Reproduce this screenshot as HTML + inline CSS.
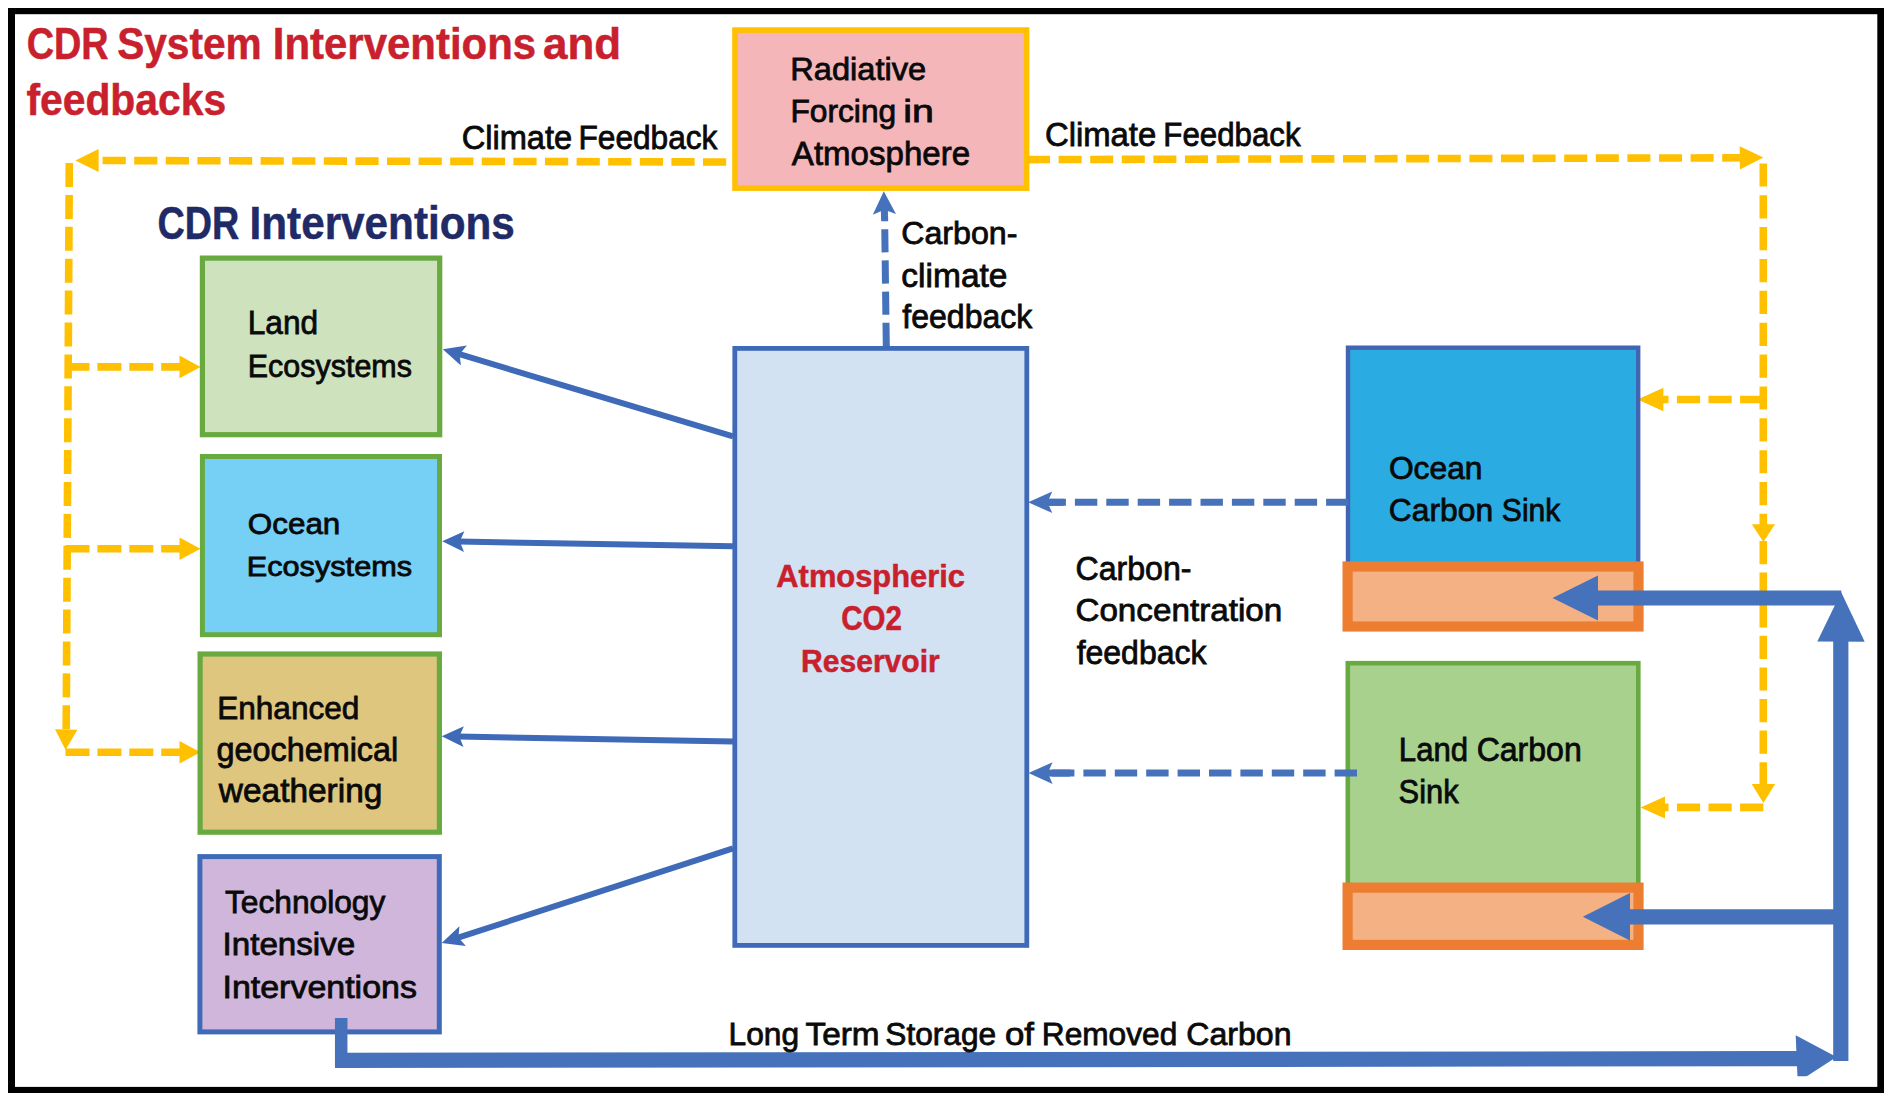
<!DOCTYPE html>
<html><head><meta charset="utf-8"><style>
html,body{margin:0;padding:0;background:#fff;}
svg{display:block;}
text{font-family:"Liberation Sans",sans-serif;}
</style></head><body>
<svg width="1892" height="1105" viewBox="0 0 1892 1105">
<rect width="1892" height="1105" fill="#fff"/>
<rect x="8" y="8" width="7" height="1085" fill="#000"/>
<rect x="8" y="8" width="1876" height="6.2" fill="#000"/>
<rect x="1877.3" y="8" width="6.7" height="1085" fill="#000"/>
<rect x="8" y="1086.9" width="1876" height="6.1" fill="#000"/>
<line x1="732.00" y1="162.00" x2="98.60" y2="160.50" stroke="#FFC000" stroke-width="7.60" stroke-dasharray="23.20 8.40" stroke-dashoffset="25.80" stroke-linecap="butt"/>
<polygon points="75.40,160.50 98.60,148.90 98.60,172.10" fill="#FFC000"/>
<line x1="69.30" y1="163.00" x2="66.20" y2="730.00" stroke="#FFC000" stroke-width="7.60" stroke-dasharray="24.00 7.90" stroke-dashoffset="0.00" stroke-linecap="butt"/>
<polygon points="65.60,750.00 55.00,729.17 77.40,729.83" fill="#FFC000"/>
<line x1="65.50" y1="366.90" x2="180.00" y2="366.90" stroke="#FFC000" stroke-width="7.60" stroke-dasharray="24.00 7.90" stroke-dashoffset="0.00" stroke-linecap="butt"/>
<polygon points="200.50,366.90 179.50,378.20 179.50,355.60" fill="#FFC000"/>
<line x1="65.50" y1="548.70" x2="180.00" y2="548.70" stroke="#FFC000" stroke-width="7.60" stroke-dasharray="24.00 7.90" stroke-dashoffset="0.00" stroke-linecap="butt"/>
<polygon points="200.50,548.70 179.50,560.00 179.50,537.40" fill="#FFC000"/>
<line x1="65.50" y1="752.30" x2="180.00" y2="752.30" stroke="#FFC000" stroke-width="7.60" stroke-dasharray="24.00 7.90" stroke-dashoffset="0.00" stroke-linecap="butt"/>
<polygon points="200.50,752.30 179.50,763.60 179.50,741.00" fill="#FFC000"/>
<line x1="1027.00" y1="159.60" x2="1741.00" y2="157.80" stroke="#FFC000" stroke-width="7.60" stroke-dasharray="23.00 8.60" stroke-dashoffset="0.00" stroke-linecap="butt"/>
<polygon points="1763.40,157.60 1739.90,169.40 1739.70,146.20" fill="#FFC000"/>
<line x1="1763.30" y1="163.40" x2="1763.30" y2="525.00" stroke="#FFC000" stroke-width="7.60" stroke-dasharray="23.20 8.66" stroke-dashoffset="0.00" stroke-linecap="butt"/>
<polygon points="1763.40,542.00 1751.80,524.20 1775.00,524.20" fill="#FFC000"/>
<line x1="1763.30" y1="541.00" x2="1763.30" y2="785.00" stroke="#FFC000" stroke-width="7.60" stroke-dasharray="23.20 8.40" stroke-dashoffset="0.00" stroke-linecap="butt"/>
<polygon points="1763.40,803.00 1751.70,784.00 1775.10,784.00" fill="#FFC000"/>
<line x1="1763.30" y1="399.50" x2="1663.00" y2="399.50" stroke="#FFC000" stroke-width="7.60" stroke-dasharray="23.20 8.40" stroke-dashoffset="0.00" stroke-linecap="butt"/>
<polygon points="1637.50,399.50 1663.40,387.70 1663.40,411.30" fill="#FFC000"/>
<line x1="1763.30" y1="807.40" x2="1665.00" y2="807.40" stroke="#FFC000" stroke-width="7.60" stroke-dasharray="23.20 8.40" stroke-dashoffset="0.00" stroke-linecap="butt"/>
<polygon points="1640.50,807.40 1665.00,796.40 1665.00,818.40" fill="#FFC000"/>
<rect x="735.00" y="30.10" width="291.60" height="158.00" fill="#F5B6BA" stroke="#FFC000" stroke-width="5.60"/>
<rect x="734.80" y="348.40" width="292.00" height="597.00" fill="#D3E2F3" stroke="#3F6AB8" stroke-width="4.80"/>
<rect x="202.40" y="258.10" width="237.30" height="176.60" fill="#CDE2BD" stroke="#68A940" stroke-width="5.20"/>
<rect x="202.40" y="456.50" width="237.10" height="178.20" fill="#76CFF4" stroke="#68A940" stroke-width="5.00"/>
<rect x="200.10" y="654.00" width="239.30" height="178.20" fill="#DEC67F" stroke="#68A940" stroke-width="5.20"/>
<rect x="199.90" y="856.60" width="239.40" height="175.30" fill="#CFB6DA" stroke="#3F6AB8" stroke-width="5.00"/>
<rect x="1348.00" y="347.70" width="290.20" height="220.10" fill="#2AACE3" stroke="#4265B3" stroke-width="4.40"/>
<rect x="1347.60" y="566.50" width="290.90" height="60.00" fill="#F4B183" stroke="#ED7D31" stroke-width="10.20"/>
<rect x="1347.80" y="663.20" width="290.50" height="224.50" fill="#A9D18E" stroke="#68A940" stroke-width="4.60"/>
<rect x="1347.60" y="887.60" width="290.90" height="57.30" fill="#F4B183" stroke="#ED7D31" stroke-width="10.20"/>
<line x1="886.30" y1="346.00" x2="884.60" y2="216.00" stroke="#4672BC" stroke-width="7.00" stroke-dasharray="23.20 8.00" stroke-dashoffset="0.00" stroke-linecap="butt"/>
<line x1="884.40" y1="208.00" x2="884.50" y2="219.50" stroke="#4672BC" stroke-width="7.00" stroke-linecap="butt"/>
<polygon points="883.80,191.20 896.00,214.10 884.28,209.76 872.80,214.70" fill="#4672BC"/>
<line x1="1348.50" y1="502.30" x2="1049.00" y2="502.30" stroke="#4672BC" stroke-width="7.00" stroke-dasharray="22.40 9.00" stroke-dashoffset="0.00" stroke-linecap="butt"/>
<line x1="1045.00" y1="502.30" x2="1063.50" y2="502.30" stroke="#4672BC" stroke-width="7.00" stroke-linecap="butt"/>
<polygon points="1028.10,502.30 1052.30,491.50 1047.46,502.30 1052.30,513.10" fill="#4672BC"/>
<line x1="1357.00" y1="773.10" x2="1049.00" y2="773.10" stroke="#4672BC" stroke-width="7.00" stroke-dasharray="22.40 9.00" stroke-dashoffset="0.00" stroke-linecap="butt"/>
<line x1="1045.00" y1="773.10" x2="1070.00" y2="773.10" stroke="#4672BC" stroke-width="7.00" stroke-linecap="butt"/>
<polygon points="1028.50,773.10 1052.60,762.30 1047.78,773.10 1052.60,783.90" fill="#4672BC"/>
<line x1="733.00" y1="436.30" x2="458.60" y2="353.94" stroke="#3F6AB8" stroke-width="6.00" stroke-linecap="butt"/>
<polygon points="442.80,349.20 466.86,345.56 459.66,354.26 460.88,365.49" fill="#3F6AB8"/>
<line x1="733.00" y1="546.20" x2="458.70" y2="541.58" stroke="#3F6AB8" stroke-width="6.00" stroke-linecap="butt"/>
<polygon points="442.20,541.30 464.37,531.27 459.80,541.60 464.02,552.07" fill="#3F6AB8"/>
<line x1="733.00" y1="741.50" x2="458.20" y2="736.59" stroke="#3F6AB8" stroke-width="6.00" stroke-linecap="butt"/>
<polygon points="441.70,736.30 463.88,726.29 459.30,736.61 463.51,747.09" fill="#3F6AB8"/>
<line x1="733.00" y1="848.30" x2="457.39" y2="937.90" stroke="#3F6AB8" stroke-width="6.00" stroke-linecap="butt"/>
<polygon points="441.70,943.00 459.41,926.31 458.44,937.56 465.84,946.09" fill="#3F6AB8"/>
<line x1="341.20" y1="1018.00" x2="341.20" y2="1066.00" stroke="#4672BC" stroke-width="12.50" stroke-linecap="butt"/>
<line x1="335.00" y1="1060.30" x2="1800.00" y2="1058.70" stroke="#4672BC" stroke-width="15.20" stroke-linecap="butt"/>
<clipPath id="cb"><rect x="1780" y="1000" width="80" height="76.3"/></clipPath>
<polygon clip-path="url(#cb)" points="1836.50,1057.00 1797.70,1082.18 1795.70,1035.22" fill="#4672BC"/>
<line x1="1840.80" y1="1061.00" x2="1840.80" y2="640.00" stroke="#4672BC" stroke-width="15.20" stroke-linecap="butt"/>
<polygon points="1841.20,592.30 1864.70,641.80 1817.30,641.60" fill="#4672BC"/>
<line x1="1841.30" y1="598.00" x2="1596.00" y2="598.00" stroke="#4672BC" stroke-width="15.20" stroke-linecap="butt"/>
<polygon points="1552.50,598.00 1598.00,575.40 1598.00,620.60" fill="#4672BC"/>
<line x1="1841.00" y1="916.80" x2="1628.00" y2="916.80" stroke="#4672BC" stroke-width="15.20" stroke-linecap="butt"/>
<polygon points="1582.80,916.80 1630.00,893.00 1630.00,940.60" fill="#4672BC"/>
<text id="t0_0" x="26.65" y="59.00" font-size="44.77" font-weight="bold" fill="#C9202D" stroke="#C9202D" stroke-width="0.50" textLength="81.93" lengthAdjust="spacingAndGlyphs">CDR</text>
<text id="t0_1" x="117.13" y="59.00" font-size="44.77" font-weight="bold" fill="#C9202D" stroke="#C9202D" stroke-width="0.50" textLength="144.59" lengthAdjust="spacingAndGlyphs">System</text>
<text id="t0_2" x="272.79" y="59.00" font-size="44.77" font-weight="bold" fill="#C9202D" stroke="#C9202D" stroke-width="0.50" textLength="263.33" lengthAdjust="spacingAndGlyphs">Interventions</text>
<text id="t0_3" x="543.01" y="59.00" font-size="44.77" font-weight="bold" fill="#C9202D" stroke="#C9202D" stroke-width="0.50" textLength="78.08" lengthAdjust="spacingAndGlyphs">and</text>
<text id="t1" x="26.40" y="115.10" font-size="44.77" font-weight="bold" fill="#C9202D" stroke="#C9202D" stroke-width="0.50" textLength="199.77" lengthAdjust="spacingAndGlyphs">feedbacks</text>
<text id="t2_0" x="157.45" y="239.20" font-size="45.35" font-weight="bold" fill="#1F2A66" stroke="#1F2A66" stroke-width="0.50" textLength="81.72" lengthAdjust="spacingAndGlyphs">CDR</text>
<text id="t2_1" x="249.57" y="239.20" font-size="45.35" font-weight="bold" fill="#1F2A66" stroke="#1F2A66" stroke-width="0.50" textLength="265.26" lengthAdjust="spacingAndGlyphs">Interventions</text>
<text id="t3_0" x="461.64" y="148.60" font-size="33.58" font-weight="normal" fill="#0a0a0a" stroke="#0a0a0a" stroke-width="0.80" textLength="110.61" lengthAdjust="spacingAndGlyphs">Climate</text>
<text id="t3_1" x="578.50" y="148.60" font-size="33.58" font-weight="normal" fill="#0a0a0a" stroke="#0a0a0a" stroke-width="0.80" textLength="138.95" lengthAdjust="spacingAndGlyphs">Feedback</text>
<text id="t4_0" x="1044.93" y="145.70" font-size="33.43" font-weight="normal" fill="#0a0a0a" stroke="#0a0a0a" stroke-width="0.80" textLength="111.33" lengthAdjust="spacingAndGlyphs">Climate</text>
<text id="t4_1" x="1163.34" y="145.70" font-size="33.43" font-weight="normal" fill="#0a0a0a" stroke="#0a0a0a" stroke-width="0.80" textLength="137.22" lengthAdjust="spacingAndGlyphs">Feedback</text>
<text id="t5" x="790.33" y="80.00" font-size="31.98" font-weight="normal" fill="#0a0a0a" stroke="#0a0a0a" stroke-width="0.80" textLength="135.82" lengthAdjust="spacingAndGlyphs">Radiative</text>
<text id="t6_0" x="790.40" y="121.50" font-size="30.81" font-weight="normal" fill="#0a0a0a" stroke="#0a0a0a" stroke-width="0.80" textLength="105.85" lengthAdjust="spacingAndGlyphs">Forcing</text>
<text id="t6_1" x="903.37" y="121.50" font-size="30.81" font-weight="normal" fill="#0a0a0a" stroke="#0a0a0a" stroke-width="0.80" textLength="30.58" lengthAdjust="spacingAndGlyphs">in</text>
<text id="t7" x="791.84" y="164.60" font-size="33.14" font-weight="normal" fill="#0a0a0a" stroke="#0a0a0a" stroke-width="0.80" textLength="178.23" lengthAdjust="spacingAndGlyphs">Atmosphere</text>
<text id="t8" x="901.17" y="244.30" font-size="31.69" font-weight="normal" fill="#0a0a0a" stroke="#0a0a0a" stroke-width="0.80" textLength="116.26" lengthAdjust="spacingAndGlyphs">Carbon-</text>
<text id="t9" x="901.38" y="286.80" font-size="32.41" font-weight="normal" fill="#0a0a0a" stroke="#0a0a0a" stroke-width="0.80" textLength="106.11" lengthAdjust="spacingAndGlyphs">climate</text>
<text id="t10" x="902.35" y="328.40" font-size="32.41" font-weight="normal" fill="#0a0a0a" stroke="#0a0a0a" stroke-width="0.80" textLength="129.91" lengthAdjust="spacingAndGlyphs">feedback</text>
<text id="t11" x="247.70" y="334.30" font-size="33.29" font-weight="normal" fill="#0a0a0a" stroke="#0a0a0a" stroke-width="0.80" textLength="70.44" lengthAdjust="spacingAndGlyphs">Land</text>
<text id="t12" x="247.80" y="376.60" font-size="31.83" font-weight="normal" fill="#0a0a0a" stroke="#0a0a0a" stroke-width="0.80" textLength="164.10" lengthAdjust="spacingAndGlyphs">Ecosystems</text>
<text id="t13" x="247.81" y="533.60" font-size="30.38" font-weight="normal" fill="#0a0a0a" stroke="#0a0a0a" stroke-width="0.80" textLength="92.53" lengthAdjust="spacingAndGlyphs">Ocean</text>
<text id="t14" x="246.78" y="576.40" font-size="27.47" font-weight="normal" fill="#0a0a0a" stroke="#0a0a0a" stroke-width="0.80" textLength="165.32" lengthAdjust="spacingAndGlyphs">Ecosystems</text>
<text id="t15" x="217.21" y="718.70" font-size="31.83" font-weight="normal" fill="#0a0a0a" stroke="#0a0a0a" stroke-width="0.80" textLength="142.12" lengthAdjust="spacingAndGlyphs">Enhanced</text>
<text id="t16" x="216.44" y="760.50" font-size="32.41" font-weight="normal" fill="#0a0a0a" stroke="#0a0a0a" stroke-width="0.80" textLength="181.83" lengthAdjust="spacingAndGlyphs">geochemical</text>
<text id="t17" x="218.85" y="802.30" font-size="32.41" font-weight="normal" fill="#0a0a0a" stroke="#0a0a0a" stroke-width="0.80" textLength="163.51" lengthAdjust="spacingAndGlyphs">weathering</text>
<text id="t18" x="224.90" y="912.80" font-size="31.69" font-weight="normal" fill="#0a0a0a" stroke="#0a0a0a" stroke-width="0.80" textLength="160.46" lengthAdjust="spacingAndGlyphs">Technology</text>
<text id="t19" x="222.54" y="955.10" font-size="31.54" font-weight="normal" fill="#0a0a0a" stroke="#0a0a0a" stroke-width="0.80" textLength="132.73" lengthAdjust="spacingAndGlyphs">Intensive</text>
<text id="t20" x="222.47" y="997.50" font-size="31.54" font-weight="normal" fill="#0a0a0a" stroke="#0a0a0a" stroke-width="0.80" textLength="194.46" lengthAdjust="spacingAndGlyphs">Interventions</text>
<text id="t21" x="776.33" y="586.70" font-size="31.25" font-weight="bold" fill="#C9202D" stroke="#C9202D" stroke-width="0.50" textLength="188.57" lengthAdjust="spacingAndGlyphs">Atmospheric</text>
<text id="t22" x="841.19" y="629.60" font-size="34.74" font-weight="bold" fill="#C9202D" stroke="#C9202D" stroke-width="0.50" textLength="60.59" lengthAdjust="spacingAndGlyphs">CO2</text>
<text id="t23" x="801.09" y="672.30" font-size="32.27" font-weight="bold" fill="#C9202D" stroke="#C9202D" stroke-width="0.50" textLength="138.67" lengthAdjust="spacingAndGlyphs">Reservoir</text>
<text id="t24" x="1075.47" y="579.50" font-size="33.58" font-weight="normal" fill="#0a0a0a" stroke="#0a0a0a" stroke-width="0.80" textLength="115.96" lengthAdjust="spacingAndGlyphs">Carbon-</text>
<text id="t25" x="1075.41" y="621.10" font-size="32.27" font-weight="normal" fill="#0a0a0a" stroke="#0a0a0a" stroke-width="0.80" textLength="206.84" lengthAdjust="spacingAndGlyphs">Concentration</text>
<text id="t26" x="1076.65" y="663.60" font-size="32.41" font-weight="normal" fill="#0a0a0a" stroke="#0a0a0a" stroke-width="0.80" textLength="129.81" lengthAdjust="spacingAndGlyphs">feedback</text>
<text id="t27" x="1388.90" y="478.60" font-size="31.54" font-weight="normal" fill="#0a0a0a" stroke="#0a0a0a" stroke-width="0.80" textLength="93.57" lengthAdjust="spacingAndGlyphs">Ocean</text>
<text id="t28_0" x="1388.79" y="520.60" font-size="31.83" font-weight="normal" fill="#0a0a0a" stroke="#0a0a0a" stroke-width="0.80" textLength="104.28" lengthAdjust="spacingAndGlyphs">Carbon</text>
<text id="t28_1" x="1501.83" y="520.60" font-size="31.83" font-weight="normal" fill="#0a0a0a" stroke="#0a0a0a" stroke-width="0.80" textLength="58.52" lengthAdjust="spacingAndGlyphs">Sink</text>
<text id="t29_0" x="1398.85" y="761.20" font-size="32.99" font-weight="normal" fill="#0a0a0a" stroke="#0a0a0a" stroke-width="0.80" textLength="69.26" lengthAdjust="spacingAndGlyphs">Land</text>
<text id="t29_1" x="1476.67" y="761.20" font-size="32.99" font-weight="normal" fill="#0a0a0a" stroke="#0a0a0a" stroke-width="0.80" textLength="105.11" lengthAdjust="spacingAndGlyphs">Carbon</text>
<text id="t30" x="1398.60" y="802.80" font-size="32.56" font-weight="normal" fill="#0a0a0a" stroke="#0a0a0a" stroke-width="0.80" textLength="60.06" lengthAdjust="spacingAndGlyphs">Sink</text>
<text id="t31_0" x="728.50" y="1044.90" font-size="32.12" font-weight="normal" fill="#0a0a0a" stroke="#0a0a0a" stroke-width="0.80" textLength="70.55" lengthAdjust="spacingAndGlyphs">Long</text>
<text id="t31_1" x="805.49" y="1044.90" font-size="32.12" font-weight="normal" fill="#0a0a0a" stroke="#0a0a0a" stroke-width="0.80" textLength="74.11" lengthAdjust="spacingAndGlyphs">Term</text>
<text id="t31_2" x="885.26" y="1044.90" font-size="32.12" font-weight="normal" fill="#0a0a0a" stroke="#0a0a0a" stroke-width="0.80" textLength="110.95" lengthAdjust="spacingAndGlyphs">Storage</text>
<text id="t31_3" x="1005.04" y="1044.90" font-size="32.12" font-weight="normal" fill="#0a0a0a" stroke="#0a0a0a" stroke-width="0.80" textLength="29.01" lengthAdjust="spacingAndGlyphs">of</text>
<text id="t31_4" x="1041.80" y="1044.90" font-size="32.12" font-weight="normal" fill="#0a0a0a" stroke="#0a0a0a" stroke-width="0.80" textLength="135.44" lengthAdjust="spacingAndGlyphs">Removed</text>
<text id="t31_5" x="1186.27" y="1044.90" font-size="32.12" font-weight="normal" fill="#0a0a0a" stroke="#0a0a0a" stroke-width="0.80" textLength="105.21" lengthAdjust="spacingAndGlyphs">Carbon</text>
</svg>
</body></html>
